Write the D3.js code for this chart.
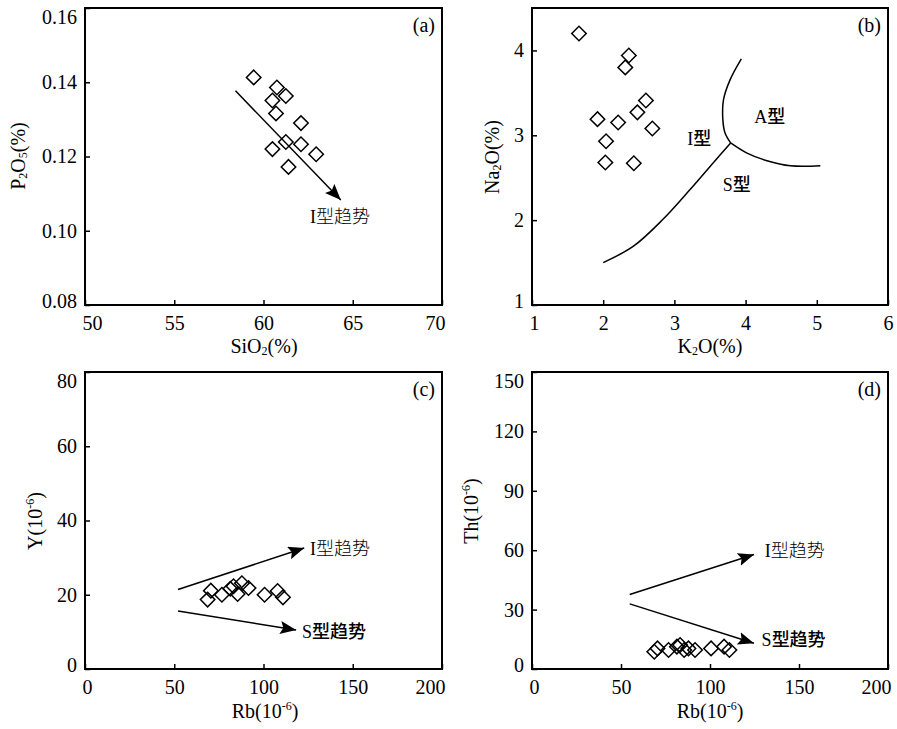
<!DOCTYPE html>
<html>
<head>
<meta charset="utf-8">
<title>Granite discrimination diagrams</title>
<script src="https://cdn.jsdelivr.net/npm/d3@7"></script>
<style>
  body { margin: 0; background: #fff; }
  svg text { font-family: "Liberation Serif", "Times New Roman", serif; fill: #000; }
  .cjk { font-family: "Noto Sans CJK SC", sans-serif; }
</style>
</head>
<body>
<svg id="chart" width="897" height="729"></svg>
<script>
// (a) SiO2 vs P2O5
const aSiO2 = [59.45, 60.75, 61.25, 60.5, 60.7, 62.1, 61.25, 62.1, 60.5, 62.95, 61.4];
const aP2O5 = [0.1413, 0.1386, 0.1363, 0.1351, 0.1316, 0.1290, 0.1239, 0.1233, 0.1220, 0.1206, 0.1172];
const aXTicks = [50, 55, 60, 65, 70];
const aYTicks = [0.08, 0.10, 0.12, 0.14, 0.16];
const aArrow = [[58.43, 0.1377], [64.33, 0.1083]];

// (b) K2O vs Na2O
const bK2O = [1.66, 2.36, 2.31, 2.60, 2.48, 1.92, 2.21, 2.69, 2.04, 2.03, 2.43];
const bNa2O = [4.20, 3.94, 3.80, 3.41, 3.27, 3.19, 3.15, 3.08, 2.93, 2.68, 2.67];
const bXTicks = [1, 2, 3, 4, 5, 6];
const bYTicks = [1, 2, 3, 4];
const bLineIS = [[2.00, 1.50], [2.42, 1.69], [2.84, 2.01], [3.22, 2.36], [3.55, 2.68], [3.79, 2.91]];
const bLineIA = [[3.79, 2.91], [3.71, 3.03], [3.68, 3.19], [3.69, 3.42], [3.78, 3.65], [3.94, 3.90]];
const bLineAS = [[3.79, 2.91], [4.02, 2.79], [4.30, 2.70], [4.63, 2.64], [5.05, 2.64]];

// (c) Rb vs Y, (d) Rb vs Th
const cdRb = [68.7, 70.5, 76.7, 81.4, 83.2, 85.5, 87.9, 91.6, 100.6, 107.9, 110.9];
const cY = [18.7, 21.1, 20.0, 21.6, 22.3, 20.2, 23.1, 21.8, 20.0, 21.0, 19.3];
const dTh = [8.7, 10.4, 9.6, 11.3, 12.1, 9.6, 10.4, 9.6, 10.4, 11.3, 9.6];
const cdXTicks = [0, 50, 100, 150, 200];
const cYTicks = [0, 20, 40, 60, 80];
const dYTicks = [0, 30, 60, 90, 120, 150];
const cArrowI = [[52.1, 21.4], [122.8, 32.6]];
const cArrowS = [[52.1, 15.6], [118.3, 10.5]];
const dArrowI = [[54.9, 37.6], [124.7, 57.8]];
const dArrowS = [[54.9, 32.9], [124.7, 13.0]];

const svg = d3.select("#chart");

svg.append("defs").append("marker")
  .attr("id", "head")
  .attr("markerUnits", "userSpaceOnUse")
  .attr("markerWidth", 18).attr("markerHeight", 14)
  .attr("refX", 16).attr("refY", 6.5)
  .attr("orient", "auto")
  .append("path")
  .attr("d", "M0,0 L16,6.5 L0,13 L3,6.5 Z")
  .attr("fill", "#000");

const panels = [
  { box: [85, 8, 442, 305], xd: [50, 70], yd: [0.08, 0.16], xt: aXTicks, yt: aYTicks, fmt: d3.format(".2f"),
    xs: aSiO2, ys: aP2O5, tag: "(a)",
    xTitle: [["SiO", 0], ["2", 1], ["(%)", 0]], yTitle: [["P", 0], ["2", 1], ["O", 0], ["5", 1], ["(%)", 0]],
    xTitlePos: [264, 353], yTitlePos: [25, 156],
    arrows: [aArrow], curves: [],
    notes: [{ pre: "I", cjk: "型趋势", x: 62.6, y: 0.1021, light: true }] },
  { box: [532, 8, 888, 305], xd: [1, 6], yd: [1, 4.5], xt: bXTicks, yt: bYTicks, fmt: d3.format("d"),
    xs: bK2O, ys: bNa2O, tag: "(b)",
    xTitle: [["K", 0], ["2", 1], ["O(%)", 0]], yTitle: [["Na", 0], ["2", 1], ["O(%)", 0]],
    xTitlePos: [710, 353], yTitlePos: [499, 157],
    arrows: [], curves: [bLineIS, bLineIA, bLineAS],
    notes: [{ pre: "A", cjk: "型", x: 4.12, y: 3.15 }, { pre: "I", cjk: "型", x: 3.18, y: 2.88 },
            { pre: "S", cjk: "型", x: 3.68, y: 2.34 }] },
  { box: [85, 372, 442, 669], xd: [0, 200], yd: [0, 80], xt: cdXTicks, yt: cYTicks, fmt: d3.format("d"),
    xs: cdRb, ys: cY, tag: "(c)",
    xTitle: [["Rb(10", 0], ["-6", 2], [")", 0]], yTitle: [["Y(10", 0], ["-6", 2], [")", 0]],
    xTitlePos: [265, 718], yTitlePos: [42, 521],
    arrows: [cArrowI, cArrowS], curves: [],
    notes: [{ pre: "I", cjk: "型趋势", x: 126.1, y: 30.7, light: true }, { pre: "S", cjk: "型趋势", x: 121.5, y: 8.3 }] },
  { box: [532, 372, 888, 669], xd: [0, 200], yd: [0, 150], xt: cdXTicks, yt: dYTicks, fmt: d3.format("d"),
    xs: cdRb, ys: dTh, tag: "(d)",
    xTitle: [["Rb(10", 0], ["-6", 2], [")", 0]], yTitle: [["Th(10", 0], ["-6", 2], [")", 0]],
    xTitlePos: [710, 718], yTitlePos: [478, 511],
    arrows: [dArrowI, dArrowS], curves: [],
    notes: [{ pre: "I", cjk: "型趋势", x: 130.8, y: 56.5, light: true }, { pre: "S", cjk: "型趋势", x: 129, y: 11.6 }] }
];

// text with sub (1) / sup (2) pieces
function addRich(sel, parts, size) {
  let shift = 0;
  parts.forEach(function(p) {
    const want = p[1] === 1 ? 2 : (p[1] === 2 ? -8 : 0);
    const t = sel.append("tspan").text(p[0]).attr("dy", want - shift);
    if (p[1]) t.attr("font-size", size * 0.6);
    shift = want;
  });
}

panels.forEach(function(p) {
  const [x0, y0, x1, y1] = p.box;
  const x = d3.scaleLinear().domain(p.xd).range([x0, x1]);
  const y = d3.scaleLinear().domain(p.yd).range([y1, y0]);
  const g = svg.append("g");

  const xAxis = g.append("g").attr("transform", "translate(0," + y1 + ")")
    .call(d3.axisBottom(x).tickValues(p.xt).tickSizeInner(-5).tickSizeOuter(0).tickPadding(11).tickFormat(d3.format("d")));
  const yAxis = g.append("g").attr("transform", "translate(" + x0 + ",0)")
    .call(d3.axisLeft(y).tickValues(p.yt).tickSizeInner(-5).tickSizeOuter(0).tickPadding(8).tickFormat(p.fmt));
  [xAxis, yAxis].forEach(function(a) {
    a.select(".domain").remove();
    a.selectAll("line").attr("stroke", "#000").attr("stroke-width", 1.5);
    a.selectAll("text").attr("font-family", null).attr("font-size", 20).attr("fill", "#000");
  });

  // labels at the frame corners are nudged inward, like the original
  const xl = xAxis.selectAll(".tick text").nodes();
  const first = xl[0], last = xl[xl.length - 1];
  const wf = first.getComputedTextLength(), wl = last.getComputedTextLength();
  if (wf / 2 > 4) d3.select(first).attr("dx", wf / 2 - 3);
  if (wl / 2 > 6) d3.select(last).attr("dx", -(wl / 2 - 3));
  yAxis.selectAll(".tick text")
    .filter(d => d === p.yd[0]).attr("dy", "0.12em");
  yAxis.selectAll(".tick text")
    .filter(d => d === p.yd[1]).attr("dy", "0.75em");

  g.append("rect")
    .attr("x", x0).attr("y", y0).attr("width", x1 - x0).attr("height", y1 - y0)
    .attr("fill", "none").attr("stroke", "#000").attr("stroke-width", 2);

  // boundary curves
  const line = d3.line().x(d => x(d[0])).y(d => y(d[1])).curve(d3.curveCatmullRom.alpha(0.5));
  p.curves.forEach(function(c) {
    g.append("path").attr("d", line(c)).attr("fill", "none").attr("stroke", "#000").attr("stroke-width", 1.5);
  });

  // trend arrows
  p.arrows.forEach(function(a) {
    g.append("line")
      .attr("x1", x(a[0][0])).attr("y1", y(a[0][1]))
      .attr("x2", x(a[1][0])).attr("y2", y(a[1][1]))
      .attr("stroke", "#000").attr("stroke-width", 1.5)
      .attr("marker-end", "url(#head)");
  });

  // samples
  const pts = p.xs.map((v, i) => [v, p.ys[i]]);
  g.selectAll("path.pt").data(pts).enter().append("path")
    .attr("class", "pt")
    .attr("d", d3.symbol().type(d3.symbolSquare).size(105))
    .attr("transform", d => "translate(" + x(d[0]) + "," + y(d[1]) + ") rotate(45)")
    .attr("fill", "none").attr("stroke", "#000").attr("stroke-width", 1.5);

  // annotations
  p.notes.forEach(function(n) {
    const t = g.append("text").attr("x", x(n.x)).attr("y", y(n.y)).attr("font-size", 18);
    t.append("tspan").text(n.pre);
    t.append("tspan").attr("class", "cjk").attr("font-weight", n.light ? 300 : 500).text(n.cjk);
  });

  g.append("text").attr("x", x1 - 7).attr("y", y0 + 24).attr("text-anchor", "end")
    .attr("font-size", 20).text(p.tag);

  const xt = g.append("text").attr("x", p.xTitlePos[0]).attr("y", p.xTitlePos[1])
    .attr("text-anchor", "middle").attr("font-size", 20);
  addRich(xt, p.xTitle, 20);
  const yt = g.append("text").attr("text-anchor", "middle").attr("font-size", 20)
    .attr("transform", "translate(" + p.yTitlePos[0] + "," + p.yTitlePos[1] + ") rotate(-90)");
  addRich(yt, p.yTitle, 20);
});
</script>
</body>
</html>
